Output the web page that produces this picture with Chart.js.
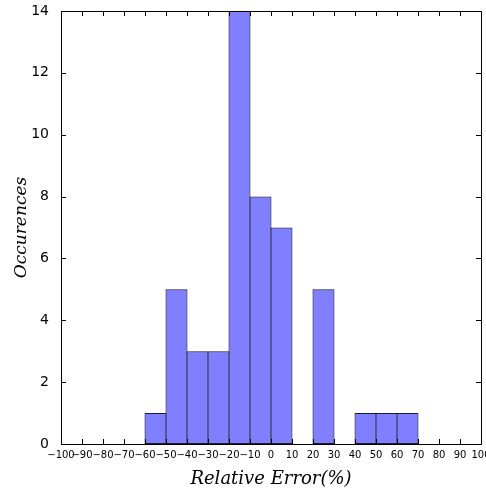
<!DOCTYPE html>
<html><head><meta charset="utf-8">
<script src="https://cdn.jsdelivr.net/npm/chart.js@4.4.1/dist/chart.umd.min.js"></script>
<style>html,body{margin:0;padding:0;background:#fff}#wrap{width:486px;height:490px}</style>
</head><body><div id="wrap"><canvas id="c" width="486" height="490"></canvas></div>
<script>
const binStarts = [-60, -50, -40, -30, -20, -10, 0, 20, 40, 50, 60];
const counts    = [1, 5, 3, 3, 14, 8, 7, 5, 1, 1, 1];
const binWidth = 10;
const xTicks = [-100,-90,-80,-70,-60,-50,-40,-30,-20,-10,0,10,20,30,40,50,60,70,80,90,100];
const yTicks = [0,2,4,6,8,10,12,14];

const inwardTicks = {
  id: 'inwardTicks',
  afterDraw(chart) {
    const ctx = chart.ctx, a = chart.chartArea, xs = chart.scales.x, ys = chart.scales.y;
    ctx.save();
    ctx.strokeStyle = '#000'; ctx.lineWidth = 1;
    ctx.strokeRect(Math.round(a.left)+0.5, Math.round(a.top)+0.5, Math.round(a.right-a.left), Math.round(a.bottom-a.top));
    ctx.beginPath();
    xTicks.forEach(v => {
      const p = Math.round(xs.getPixelForValue(v)) + 0.5;
      ctx.moveTo(p, a.bottom); ctx.lineTo(p, a.bottom - 5);
      ctx.moveTo(p, a.top); ctx.lineTo(p, a.top + 5);
    });
    yTicks.forEach(v => {
      const p = Math.round(ys.getPixelForValue(v)) + 0.5;
      ctx.moveTo(a.left, p); ctx.lineTo(a.left + 5, p);
      ctx.moveTo(a.right, p); ctx.lineTo(a.right - 5, p);
    });
    ctx.stroke();
    ctx.restore();
  }
};

new Chart(document.getElementById('c'), {
  type: 'bar',
  data: {
    datasets: [{
      data: binStarts.map((s, i) => ({x: s + binWidth / 2, y: counts[i]})),
      backgroundColor: 'rgba(0,0,255,0.5)',
      borderColor: '#1a1a33',
      borderWidth: 1,
      borderSkipped: false,
      barPercentage: 1.048,
      categoryPercentage: 1
    }]
  },
  options: {
    responsive: false,
    animation: false,
    devicePixelRatio: 1,
    layout: {padding: {top: 11, right: 5, left: 11, bottom: 0}},
    plugins: {legend: {display: false}, tooltip: {enabled: false}},
    scales: {
      x: {
        type: 'linear', min: -100, max: 100, offset: false,
        afterBuildTicks: s => { s.ticks = xTicks.map(v => ({value: v})); },
        afterFit: s => { s.height = 46; s.paddingLeft = 0; s.paddingRight = 0; },
        grid: {display: false, offset: false},
        border: {display: true, color: '#000'},
        ticks: {
          color: '#000', maxRotation: 0, autoSkip: false, padding: -3,
          font: {family: 'DejaVu Sans', size: 10},
          callback: v => String(v).replace('-', '\u2212')
        },
        title: {display: true, text: 'Relative Error(%)', color: '#000',
          font: {family: 'DejaVu Serif', style: 'italic', size: 18}, padding: {top: 5, bottom: 0}}
      },
      y: {
        min: 0, max: 14,
        afterBuildTicks: s => { s.ticks = yTicks.map(v => ({value: v})); },
        afterFit: s => { s.width = 50; s.paddingTop = 0; s.paddingBottom = 0; },
        grid: {display: false},
        border: {display: true, color: '#000'},
        ticks: {color: '#000', padding: 4, font: {family: 'DejaVu Sans', size: 14}},
        title: {display: true, text: 'Occurences', color: '#000',
          font: {family: 'DejaVu Serif', style: 'italic', size: 17}, padding: {top: 0, bottom: 4}}
      }
    }
  },
  plugins: [inwardTicks]
});
</script></body></html>
